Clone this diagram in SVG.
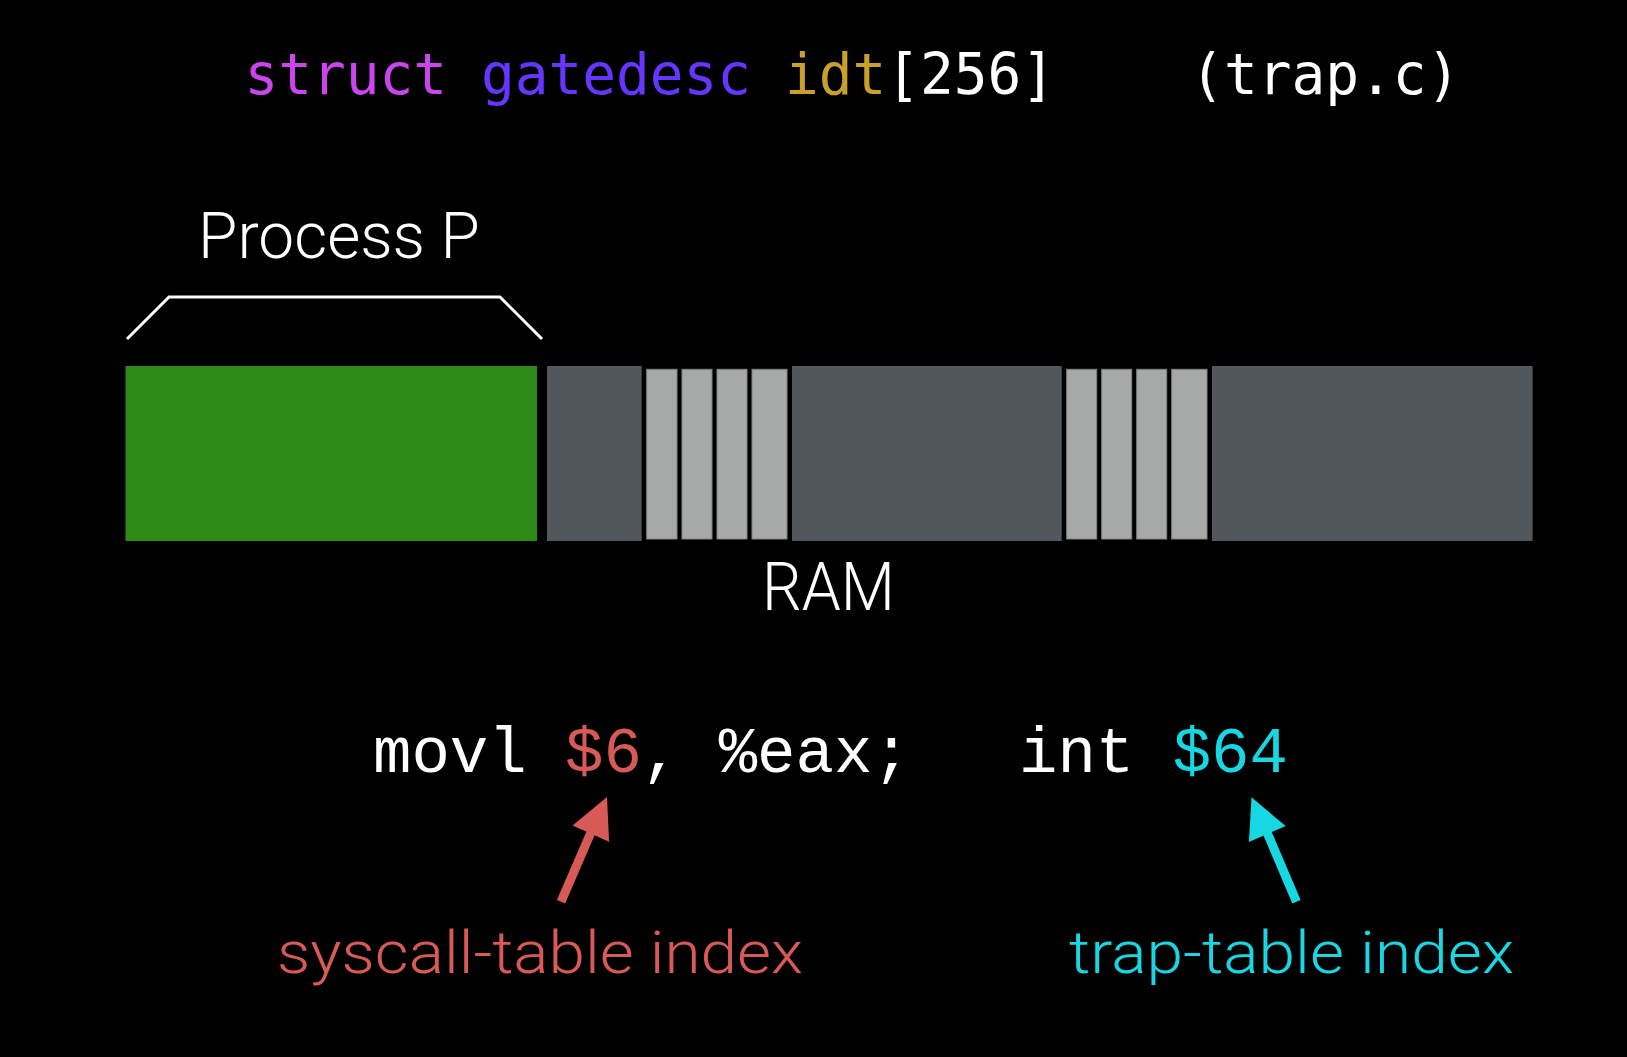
<svg xmlns="http://www.w3.org/2000/svg" width="1627" height="1057" viewBox="0 0 1627 1057">
<style>
  .mono { font-family: "DejaVu Sans Mono", monospace; font-size: 56.1px; white-space: pre; }
  .code { font-family: "Liberation Mono", "Courier New", monospace; font-size: 64px; fill: #ffffff; white-space: pre; }
  .light { font-family: "Roboto", "Liberation Sans", "Helvetica Neue", Arial, sans-serif; font-weight: 300; }
  .dark { fill: #52575e; }
  .stripe { fill: #a6a9a7; stroke: #808382; stroke-width: 1; }
</style>
<rect x="0" y="0" width="1627" height="1057" fill="#000000"/>

<g id="title">
  <text class="mono" x="244.5" y="93.5" xml:space="preserve"><tspan fill="#cc44ee">struct</tspan><tspan fill="#ffffff"> </tspan><tspan fill="#6635ff">gatedesc</tspan><tspan fill="#ffffff"> </tspan><tspan fill="#c9a02a">idt</tspan><tspan fill="#ffffff">[256]    (trap.c)</tspan></text>
</g>

<g id="process-label">
  <text class="light" x="198" y="258.3" font-size="64" fill="#ffffff" textLength="282" lengthAdjust="spacingAndGlyphs">Process P</text>
  <polyline points="127,339 169,297 500,297 542,339" fill="none" stroke="#ffffff" stroke-width="3"/>
</g>

<g id="ram">
  <rect id="process-p" x="125.5" y="366" width="411.5" height="175" fill="#2f8b18"/>
  <rect class="dark" x="547" y="366" width="94.7" height="175"/>
  <rect class="stripe" x="646.7" y="369.3" width="30.3" height="169.7"/>
  <rect class="stripe" x="682" y="369.3" width="30" height="169.7"/>
  <rect class="stripe" x="717" y="369.3" width="30" height="169.7"/>
  <rect class="stripe" x="752" y="369.3" width="35" height="169.7"/>
  <rect class="dark" x="792" y="366" width="269.7" height="175"/>
  <rect class="stripe" x="1066.7" y="369.3" width="30" height="169.7"/>
  <rect class="stripe" x="1101.7" y="369.3" width="30" height="169.7"/>
  <rect class="stripe" x="1136.7" y="369.3" width="30" height="169.7"/>
  <rect class="stripe" x="1171.7" y="369.3" width="35.3" height="169.7"/>
  <rect class="dark" x="1212" y="366" width="320.6" height="175"/>
  <text class="light" x="762" y="610" font-size="66" fill="#ffffff" textLength="133" lengthAdjust="spacingAndGlyphs">RAM</text>
</g>

<g id="code">
  <text class="code" x="373" y="771.7" xml:space="preserve">movl <tspan fill="#d85a56">$6</tspan>, %eax;</text>
  <text class="code" x="1019" y="771.7" xml:space="preserve">int <tspan fill="#17d8e2">$64</tspan></text>
</g>

<g id="connectors">
  <line x1="561" y1="901.7" x2="592" y2="830" stroke="#d85a56" stroke-width="9"/>
  <polygon points="607,797 609.1,841.7 572.5,825.5" fill="#d85a56"/>
  <line x1="1296.5" y1="901.7" x2="1266" y2="830" stroke="#17d8e2" stroke-width="9"/>
  <polygon points="1251.5,797.3 1285.7,826.1 1248.9,841.9" fill="#17d8e2"/>
</g>

<g id="syscall-label">
  <text class="light" x="277" y="973.3" font-size="60" fill="#d85a56" textLength="526" lengthAdjust="spacingAndGlyphs">syscall-table index</text>
</g>
<g id="trap-label">
  <text class="light" x="1069" y="973.3" font-size="60" fill="#17d8e2" textLength="445" lengthAdjust="spacingAndGlyphs">trap-table index</text>
</g>
</svg>
